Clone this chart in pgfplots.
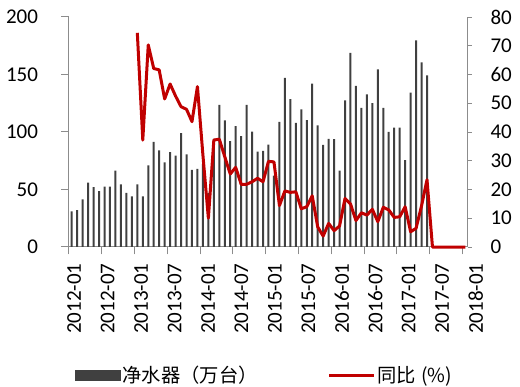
\documentclass[border=0pt]{standalone}
\usepackage{fontspec}
\setmainfont{Carlito}
\newfontfamily\cjk{Noto Sans CJK SC}
\usepackage{pgfplots}
\usepackage{pgfplotstable}
\pgfplotsset{compat=1.18}
\definecolor{axgray}{RGB}{140,140,140}
\definecolor{bargray}{RGB}{64,64,64}
\definecolor{linered}{RGB}{192,0,0}

\pgfplotstableread{
x y
0 31
1 32
2 41.5
3 56
4 52
5 48.5
6 52.5
7 52.5
8 66.5
9 54.5
10 47
11 44
12 54.5
13 44
14 71
15 91.5
16 84
17 73.5
18 82.5
19 79.5
20 99
21 80.5
22 67
23 68
24 72
25 47
26 94
27 123.5
28 110
29 92
30 105
31 96.5
32 123.5
33 100.3
34 83
35 83.5
36 89
37 62
38 108.7
39 147
40 128.5
41 108
42 119.7
43 110.4
44 142
45 105.8
46 88.7
47 94
48 93.8
49 66.4
50 127.5
51 168.7
52 140
53 121
54 132.8
55 125
56 154.5
57 121
58 100
59 103.7
60 103.9
61 75.6
62 134.2
63 179.7
64 160.6
65 149.3
}\bardata

\pgfplotstableread{
x y
12 74.5
13 37.2
14 70.3
15 62.1
16 61.6
17 51.5
18 56.7
19 52.5
20 48.8
21 47.9
22 43.6
23 55.8
24 32
25 10
26 37.2
27 37.5
28 31.4
29 25.4
30 27.7
31 21.8
32 21.8
33 22.7
34 23.9
35 22.7
36 29.8
37 29.6
38 14.4
39 19.5
40 19.0
41 19.2
42 13.3
43 14.0
44 17.8
45 7.0
46 3.8
47 8.2
48 5.7
49 7.3
50 16.9
51 15
52 9.2
53 11.9
54 11.1
55 13.1
56 8.8
57 13.8
58 12.9
59 10.3
60 10.5
61 14
62 5.3
63 6.5
64 14.3
65 23.4
66 0
67 0
68 0
69 0
70 0
71 0
72 0
}\yoydata

\begin{document}
\begin{tikzpicture}
\path[use as bounding box] (0,0) rectangle (520pt,386pt);
\begin{axis}[
  at={(69pt,139pt)}, anchor=south west,
  scale only axis, width=399pt, height=230pt,
  xmin=-0.5, xmax=72.5, ymin=0, ymax=200,
  axis x line*=bottom, axis y line*=left,
  axis line style={draw=axgray, line width=1pt},
  xtick={-0.5,5.5,...,71.5}, xticklabels={},
  ytick={0,50,...,200},
  tick align=outside, major tick length=7.5pt,
  tick style={draw=axgray, line width=1pt},
  tick label style={font=\fontsize{21}{24}\selectfont},
  /pgf/number format/assume math mode=true,
  yticklabel style={anchor=east, xshift=-20pt},
  ybar, bar width=2pt,
]
\addplot[fill=bargray, draw=none] table[x=x,y=y]{\bardata};
\end{axis}
% x tick labels (slightly wider spacing, as in the reference)
\begin{axis}[
  at={(69pt,139pt)}, anchor=south west,
  scale only axis, width=409.93pt, height=230pt,
  xmin=-0.5, xmax=74.5, ymin=0, ymax=1,
  axis x line*=bottom, axis y line=none,
  x axis line style={draw=none},
  xtick={0.45,6.571,12.692,18.813,24.934,31.055,37.176,43.297,49.418,55.539,61.66,67.781,73.902},
  xticklabels={2012-01,2012-07,2013-01,2013-07,2014-01,2014-07,2015-01,2015-07,2016-01,2016-07,2017-01,2017-07,2018-01},
  xtick style={draw=none},
  tick label style={font=\fontsize{21}{24}\selectfont},
  xticklabel style={rotate=90, anchor=east, xshift=-13pt},
]
\end{axis}
\begin{axis}[
  at={(69pt,139pt)}, anchor=south west,
  scale only axis, width=399pt, height=230pt,
  xmin=-0.5, xmax=72.5, ymin=0, ymax=80,
  axis y line*=right, axis x line=none,
  y axis line style={draw=axgray, line width=1pt},
  ytick={0,10,...,80},
  ytick style={draw=axgray, line width=1pt},
  tick align=outside, major tick length=4pt,
  tick label style={font=\fontsize{21}{24}\selectfont},
  /pgf/number format/assume math mode=true,
  yticklabel style={anchor=west, xshift=15pt},
  clip=false,
  legend columns=2,
  legend style={draw=none, fill=none, at={(axis description cs:0,0)}, anchor=west,
    xshift=3pt, yshift=-128pt, font=\cjk\fontsize{19.3}{24}\selectfont,
    /tikz/every even column/.append style={column sep=68pt}},
]
\addlegendimage{legend image code/.code={\fill[bargray] (0pt,-5pt) rectangle (45pt,5pt);}}
\addlegendentry{净水器（万台）}
\addplot[linered, line width=3pt, line join=round, mark=none,
  legend image code/.code={\draw[linered, line width=3pt] (0pt,0pt) -- (45pt,0pt);}]
  table[x=x,y=y]{\yoydata};
\addlegendentry{同比\hspace{5pt}(\%)}
\end{axis}
\end{tikzpicture}
\end{document}
